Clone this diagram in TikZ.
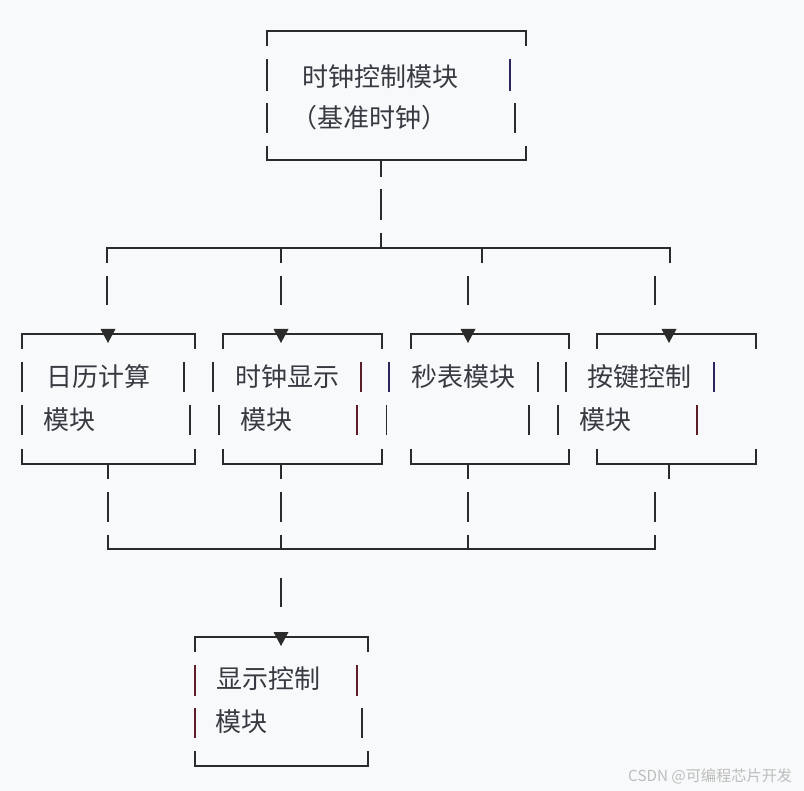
\documentclass[tikz,border=0pt]{standalone}
\usepackage{fontspec}
\newfontfamily\cjk{Noto Sans CJK SC}
\definecolor{bg}{HTML}{F8F9FA}
\definecolor{ink}{HTML}{2B2B2B}
\definecolor{inkred}{HTML}{5E1C28}
\definecolor{inknavy}{HTML}{2A275C}
\definecolor{txtc}{HTML}{383A42}
\definecolor{wm}{HTML}{BDBDBD}
\begin{document}
\begin{tikzpicture}[x=1pt,y=-1pt,
  ln/.style={draw=ink,line width=2pt},
  bar/.style={draw=ink,line width=1.8pt},
  barred/.style={draw=inkred,line width=1.8pt},
  barnavy/.style={draw=inknavy,line width=1.8pt},
  tri/.style={fill=ink},
  txt/.style={anchor=west,inner sep=0pt,text=txtc,font=\cjk\fontsize{26}{26}\selectfont},
  wmark/.style={anchor=west,inner sep=0pt,text=wm,font=\cjk\fontsize{15.2}{15.2}\selectfont}]
\fill[bg] (0,0) rectangle (804,791);
\useasboundingbox (0,0) rectangle (804,791);

% ---- top box
\draw[ln] (267,46)--(267,31)--(526,31)--(526,46);
\draw[ln] (267,146)--(267,160)--(526,160)--(526,146);
\draw[bar] (267,59)--(267,91);
\draw[barnavy] (510,59)--(510,91);
\draw[bar] (267,103)--(267,133);
\draw[bar] (515,103)--(515,133);
\node[txt] (clk1) at (302.5,77) {时钟控制模块};
\node[txt] (clk2) at (291.5,118) {（基准时钟）};

% ---- top connectors
\draw[bar] (381,160)--(381,177);
\draw[bar] (381,189)--(381,220);
\draw[bar] (381,233)--(381,248);
\draw[ln] (107,263)--(107,248)--(670,248)--(670,263);
\draw[bar] (281,248)--(281,263);
\draw[bar] (482,248)--(482,263);
\foreach \x in {107,281,468,655} \draw[bar] (\x,276)--(\x,305);

% ---- row of boxes
\foreach \l/\r in {22/195,223/382,411/569,597/756}{
  \draw[ln] (\l,349)--(\l,334)--(\r,334)--(\r,349);
  \draw[ln] (\l,449)--(\l,464)--(\r,464)--(\r,449);
}
\foreach \x in {108,281,468,669} \fill[tri] (\x-7.5,329)--(\x+7.5,329)--(\x,343)--cycle;

% box 1
\draw[bar] (22,362)--(22,392);
\draw[bar] (184,362)--(184,392);
\draw[bar] (22,405)--(22,435);
\draw[bar] (190,405)--(190,435);
\node[txt] (cal1) at (46,377) {日历计算};
\node[txt] (cal2) at (43.5,420) {模块};
% box 2
\draw[bar] (213,362)--(213,392);
\draw[barred] (361,362)--(361,392);
\draw[bar] (219,405)--(219,435);
\draw[barred] (357,405)--(357,435);
\node[txt] (disp1) at (235.5,377) {时钟显示};
\node[txt] (disp2) at (240.5,420) {模块};
% box 3
\draw[barnavy] (389,362)--(389,392);
\draw[bar] (538,362)--(538,392);
\draw[bar] (386.5,405)--(386.5,435);
\draw[bar] (529,405)--(529,435);
\node[txt] (sw1) at (411.5,377) {秒表模块};
% box 4
\draw[bar] (566,362)--(566,392);
\draw[barnavy] (714,362)--(714,392);
\draw[bar] (558,405)--(558,435);
\draw[barred] (697,405)--(697,435);
\node[txt] (key1) at (587.5,377) {按键控制};
\node[txt] (key2) at (579.5,420) {模块};

% ---- bottom connectors
\foreach \x in {108,281,468,669} \draw[bar] (\x,464)--(\x,479);
\foreach \x in {108,281,468,655} \draw[bar] (\x,492)--(\x,522);
\draw[ln] (108,535)--(108,549)--(655,549)--(655,535);
\draw[bar] (281,535)--(281,549);
\draw[bar] (468,535)--(468,549);
\draw[bar] (281,578)--(281,607);

% ---- display control box
\draw[ln] (195,652)--(195,637)--(368,637)--(368,652);
\draw[ln] (195,751)--(195,766)--(368,766)--(368,751);
\fill[tri] (273.5,632)--(288.5,632)--(281,646)--cycle;
\draw[barred] (195,665)--(195,696);
\draw[barred] (357,665)--(357,696);
\draw[barred] (195,708)--(195,738);
\draw[bar] (362,708)--(362,738);
\node[txt] (dc1) at (216.5,679) {显示控制};
\node[txt] (dc2) at (215.5,722) {模块};

% ---- watermark
\node[wmark] (wm) at (628,776) {CSDN @可编程芯片开发};
\end{tikzpicture}
\end{document}
